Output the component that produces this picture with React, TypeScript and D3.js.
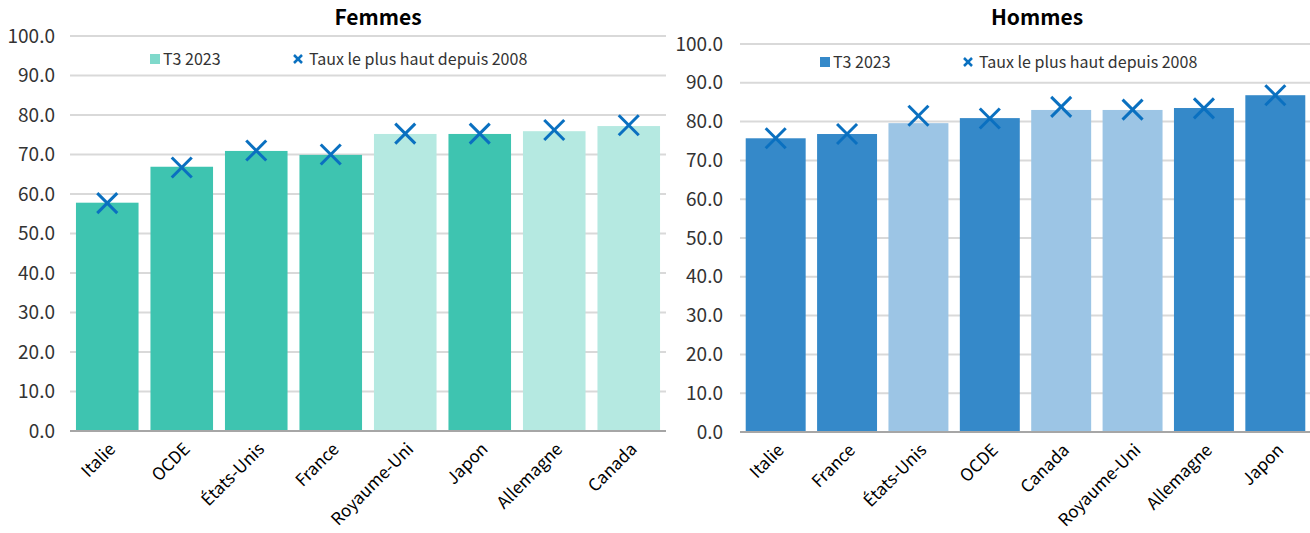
import React from "react";
import * as d3 from "d3";

const femmesCategories = ["Italie", "OCDE", "États-Unis", "France", "Royaume-Uni", "Japon", "Allemagne", "Canada"];
const femmesT3 = [57.8, 66.9, 70.9, 69.9, 75.2, 75.2, 75.9, 77.2];
const femmesMax = [57.7, 66.7, 71.0, 70.0, 75.3, 75.3, 76.2, 77.4];
const femmesLight = [false, false, false, false, true, false, true, true];

const hommesCategories = ["Italie", "France", "États-Unis", "OCDE", "Canada", "Royaume-Uni", "Allemagne", "Japon"];
const hommesT3 = [75.7, 76.8, 79.6, 80.9, 83.0, 83.0, 83.5, 86.8];
const hommesMax = [75.7, 76.8, 81.5, 80.8, 83.8, 83.1, 83.4, 86.8];
const hommesLight = [false, false, true, false, true, true, false, false];

const yTicks = [0, 10, 20, 30, 40, 50, 60, 70, 80, 90, 100];

const FONT = "'Noto Sans CJK JP', 'Noto Sans', sans-serif";

type PanelProps = {
  title: string;
  cats: string[];
  bars: number[];
  maxes: number[];
  light: boolean[];
  x0: number;
  x1: number;
  yTop: number;
  yBottom: number;
  labelRight: number;
  titleX: number;
  dark: string;
  lite: string;
  legendSwatch: string;
  legendX: number;
  legendY: number;
};

const Cross = ({ cx, cy, r, sw }: { cx: number; cy: number; r: number; sw: number }) => (
  <g stroke="#0a70c0" strokeWidth={sw} strokeLinecap="butt">
    <line x1={cx - r} y1={cy - r} x2={cx + r} y2={cy + r} />
    <line x1={cx - r} y1={cy + r} x2={cx + r} y2={cy - r} />
  </g>
);

const Panel = (p: PanelProps) => {
  const x = d3.scaleBand<string>().domain(p.cats).range([p.x0, p.x1]).paddingInner(0.16).paddingOuter(0.08);
  const y = d3.scaleLinear().domain([0, 100]).range([p.yBottom, p.yTop]);
  return (
    <g>
      <text x={p.titleX} y={25} textAnchor="middle" fontSize={21} fontWeight="bold" fontFamily={FONT} fill="#000">
        {p.title}
      </text>
      {yTicks.map((t) => (
        <g key={t}>
          {t > 0 && <line x1={p.x0} x2={p.x1} y1={y(t)} y2={y(t)} stroke="#d9d9d9" strokeWidth={2} />}
          <text x={p.labelRight} y={y(t)} dy="0.35em" textAnchor="end" fontSize={19} fontFamily={FONT} fill="#333">
            {t.toFixed(1)}
          </text>
        </g>
      ))}
      {p.cats.map((c, i) => (
        <rect
          key={c}
          x={x(c)}
          y={y(p.bars[i])}
          width={x.bandwidth()}
          height={y(0) - y(p.bars[i])}
          fill={p.light[i] ? p.lite : p.dark}
        />
      ))}
      <line x1={p.x0} x2={p.x1} y1={y(0)} y2={y(0)} stroke="#a6a6a6" strokeWidth={2} />
      {p.cats.map((c, i) => (
        <Cross key={c} cx={(x(c) as number) + x.bandwidth() / 2} cy={y(p.maxes[i])} r={10} sw={3} />
      ))}
      {p.cats.map((c) => {
        const cx = (x(c) as number) + x.bandwidth() / 2 + 5;
        return (
          <text
            key={c}
            transform={`translate(${cx},${y(0) + 15}) rotate(-45)`}
            textAnchor="end"
            dy="0.35em"
            fontSize={17}
            fontFamily={FONT}
            fill="#000"
          >
            {c}
          </text>
        );
      })}
      <rect x={p.legendX} y={p.legendY - 5} width={10} height={10} fill={p.legendSwatch} />
      <text x={p.legendX + 13} y={p.legendY} dy="0.35em" fontSize={16} fontFamily={FONT} fill="#333">
        T3 2023
      </text>
      <Cross cx={p.legendX + 148} cy={p.legendY} r={4} sw={2.5} />
      <text x={p.legendX + 159} y={p.legendY} dy="0.35em" fontSize={16} fontFamily={FONT} fill="#333">
        Taux le plus haut depuis 2008
      </text>
    </g>
  );
};

export default function App() {
  return (
    <svg width={1310} height={533} style={{ position: "absolute", left: 0, top: 0, background: "#fff" }}>
      <Panel
        title="Femmes"
        cats={femmesCategories}
        bars={femmesT3}
        maxes={femmesMax}
        light={femmesLight}
        x0={70}
        x1={666}
        yTop={36}
        yBottom={431}
        labelRight={55}
        titleX={378}
        dark="#3ec4b0"
        lite="#b5e9e1"
        legendSwatch="#7fd9cb"
        legendX={150}
        legendY={59}
      />
      <Panel
        title="Hommes"
        cats={hommesCategories}
        bars={hommesT3}
        maxes={hommesMax}
        light={hommesLight}
        x0={740}
        x1={1311}
        yTop={44}
        yBottom={432}
        labelRight={723}
        titleX={1037}
        dark="#3589c9"
        lite="#9cc5e5"
        legendSwatch="#3589c9"
        legendX={820}
        legendY={62}
      />
    </svg>
  );
}
